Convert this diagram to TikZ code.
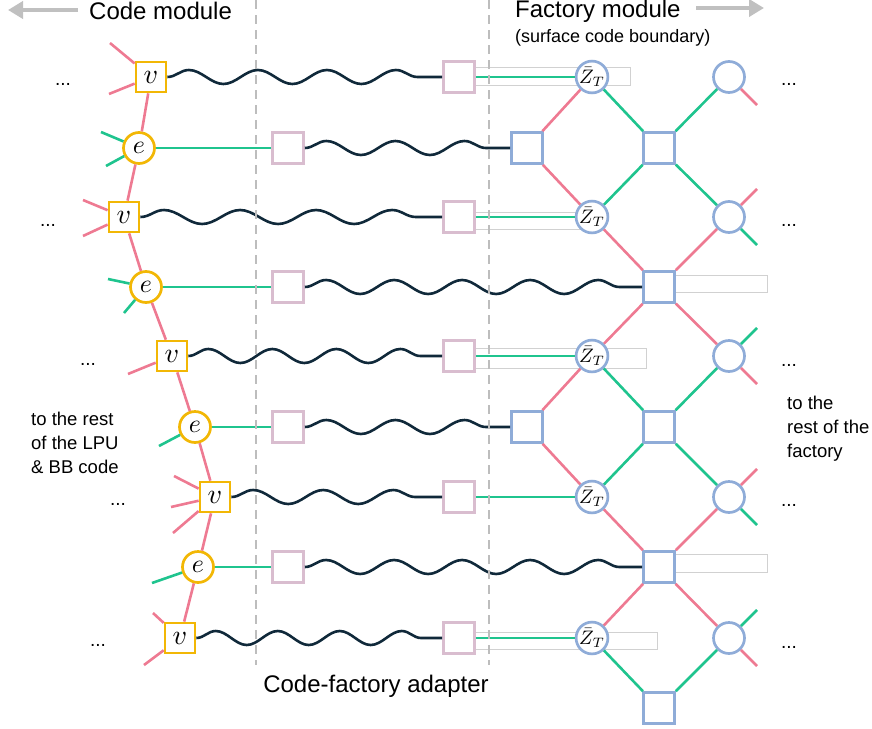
\documentclass[tikz,border=0pt]{standalone}
\usepackage{graphicx}
\usepackage{fontspec}
\setmainfont{Liberation Sans}
\usetikzlibrary{decorations.pathmorphing,arrows.meta}

\definecolor{edgepink}{HTML}{EE7A92}
\definecolor{edgegreen}{HTML}{1FC48E}
\definecolor{codegold}{HTML}{F2B705}
\definecolor{adaptmauve}{HTML}{D9BDCF}
\definecolor{factblue}{HTML}{8FACD8}
\definecolor{wavenavy}{HTML}{10293A}
\definecolor{splitgray}{HTML}{BDBDBD}
\definecolor{hintgray}{HTML}{C0C0C0}

% large math labels
\newcommand{\vlab}{\scalebox{2.8}{$v$}}
\newcommand{\elab}{\scalebox{2.6}{$e$}}
\newcommand{\zlab}{\scalebox{1.95}{$\bar{Z}_T$}}

\tikzset{
  codev/.style={draw=codegold, line width=2.7pt, fill=white, minimum size=30pt,
    inner sep=0pt},
  codee/.style={codev, circle, minimum size=31pt},
  adapt/.style={draw=adaptmauve, line width=2.7pt, fill=white, minimum size=31pt, inner sep=0pt},
  fsq/.style={draw=factblue, line width=2.7pt, fill=white, minimum size=31pt, inner sep=0pt},
  fcirc/.style={fsq, circle},
  pinkedge/.style={draw=edgepink, line width=2.6pt},
  greenedge/.style={draw=edgegreen, line width=2.6pt},
  wave/.style={draw=wavenavy, line width=2.6pt, decorate,
    decoration={snake, amplitude=7pt, segment length=#1}},
  frame/.style={draw=black!18, line width=0.9pt},
  split/.style={draw=splitgray, line width=2.8pt, dash pattern=on 9pt off 6pt},
  hint/.style={draw=hintgray, line width=4.5pt, -{Triangle[length=15pt,width=17pt]}},
  bigtext/.style={font=\fontsize{24}{28}\selectfont, inner sep=0pt},
  smalltext/.style={font=\fontsize{18.5}{24}\selectfont, inner sep=0pt, align=left},
  dots/.style={font=\fontsize{19}{19}\selectfont, inner sep=0pt, anchor=base},
}

\begin{document}
\begin{tikzpicture}[x=1pt,y=-1pt]
\useasboundingbox (0,0) rectangle (872,728);

% faint frames behind the boundary links
\foreach \xa/\ya/\xb/\yb in {470/67/630/85, 470/212/590/229, 470/348/646/368,
    470/632/657/649, 670/275/767/292, 670/554/767/572}
  \draw[frame] (\xa,\ya) rectangle (\xb,\yb);

% code module: vertex and edge checks
\node[codev] (v1) at (151,77)  {\vlab};
\node[codee] (e2) at (139,148) {\elab};
\node[codev] (v3) at (124,217) {\vlab};
\node[codee] (e4) at (146,287) {\elab};
\node[codev] (v5) at (172,356) {\vlab};
\node[codee] (e6) at (195,427) {\elab};
\node[codev] (v7) at (215,497) {\vlab};
\node[codee] (e8) at (198,567) {\elab};
\node[codev] (v9) at (180,638) {\vlab};

% adapter qubits
\foreach \i/\x/\y in {1/459/77, 2/288/148, 3/459/217, 4/288/287, 5/459/356,
    6/288/427, 7/459/497, 8/288/567, 9/459/638}
  \node[adapt] (a\i) at (\x,\y) {};

% factory module: surface code boundary
\foreach \i/\y in {1/77, 3/217, 5/356, 7/497, 9/638} {
  \node[fcirc] (z\i) at (592,\y) {\zlab};
  \node[fcirc] (r\i) at (729,\y) {};
  \coordinate (ur\i) at (757,\y-28);
  \coordinate (dr\i) at (757,\y+28);
}
\node[fsq] (b2) at (527,148) {};
\node[fsq] (b6) at (527,427) {};
\foreach \i/\y in {2/148, 4/287, 6/427, 8/567, 10/708}
  \node[fsq] (q\i) at (659,\y) {};

% loose ends of the code module
\coordinate (s1a) at (110,43);  \coordinate (s1b) at (109,94);
\coordinate (s2a) at (101,132); \coordinate (s2b) at (106,166);
\coordinate (s3a) at (83,200);  \coordinate (s3b) at (83,236);
\coordinate (s4a) at (108,279); \coordinate (s4b) at (124,313);
\coordinate (s5a) at (128,374);
\coordinate (s6a) at (159,446);
\coordinate (s7a) at (174,476); \coordinate (s7b) at (171,507); \coordinate (s7c) at (173,533);
\coordinate (s8a) at (152,583);
\coordinate (s9a) at (153,613); \coordinate (s9b) at (144,665);

% code module edges
\draw[pinkedge] (v1) -- (e2) -- (v3) -- (e4) -- (v5) -- (e6) -- (v7) -- (e8) -- (v9);
\draw[pinkedge] (v1) -- (s1a) (v1) -- (s1b) (v3) -- (s3a) (v3) -- (s3b)
  (v5) -- (s5a) (v7) -- (s7a) (v7) -- (s7b) (v7) -- (s7c) (v9) -- (s9a) (v9) -- (s9b);
\draw[greenedge] (e2) -- (s2a) (e2) -- (s2b) (e4) -- (s4a) (e4) -- (s4b)
  (e6) -- (s6a) (e8) -- (s8a);

% links into the adapter
\draw[greenedge] (e2) -- (a2) (e4) -- (a4) (e6) -- (a6) (e8) -- (a8);
\draw[greenedge] (a1) -- (z1) (a3) -- (z3) (a5) -- (z5) (a7) -- (z7) (a9) -- (z9);

% long-range couplers
\draw[wave=69] (v1.east) -- (a1.west);
\draw[wave=69] (a2.east) -- (b2.west);
\draw[wave=76] (v3.east) -- (a3.west);
\draw[wave=68] (a4.east) -- (q4.west);
\draw[wave=64] (v5.east) -- (a5.west);
\draw[wave=69] (a6.east) -- (b6.west);
\draw[wave=70] (v7.east) -- (a7.west);
\draw[wave=68] (a8.east) -- (q8.west);
\draw[wave=62] (v9.east) -- (a9.west);

% factory lattice
\draw[pinkedge] (z1) -- (b2) (b2) -- (z3) (z3) -- (q4) (r3) -- (q4) (q4) -- (z5)
  (q4) -- (r5) (z5) -- (b6) (b6) -- (z7) (z7) -- (q8) (r7) -- (q8) (q8) -- (z9) (q8) -- (r9);
\draw[greenedge] (z1) -- (q2) (q2) -- (r1) (q2) -- (z3) (q2) -- (r3) (z5) -- (q6)
  (r5) -- (q6) (q6) -- (z7) (q6) -- (r7) (z9) -- (q10) (r9) -- (q10);
\draw[pinkedge] (r1) -- (dr1) (r3) -- (ur3) (r5) -- (dr5) (r7) -- (ur7) (r9) -- (dr9);
\draw[greenedge] (r3) -- (dr3) (r5) -- (ur5) (r7) -- (dr7) (r9) -- (ur9);

% module separators
\draw[split] (256,0) -- (256,665);
\draw[split] (489,0) -- (489,665);

% headings
\draw[hint] (78,10) -- (8,10);
\node[bigtext, anchor=west] (hcode) at (89,11) {Code module};
\node[bigtext, anchor=west] (hfact) at (515,11) {Factory module};
\draw[hint] (696,8) -- (764,8);
\node[smalltext, anchor=west, font=\fontsize{18}{20}\selectfont] (hbnd) at (515,38) {(surface code boundary)};
\node[bigtext] (hadapt) at (376,686) {Code-factory adapter};

\node[smalltext, anchor=west] (lrest) at (31,443) {to the rest\\of the LPU\\\& BB code};
\node[smalltext, anchor=west] (rrest) at (787,429) {to the\\rest of the\\factory};

% ellipses
\foreach \x/\y in {63/85, 48/226, 88/365, 118/505, 98/646}
  \node[dots] at (\x,\y) {...};
\foreach \y in {85, 226, 366, 506, 648}
  \node[dots] at (789,\y) {...};
\end{tikzpicture}
\end{document}
